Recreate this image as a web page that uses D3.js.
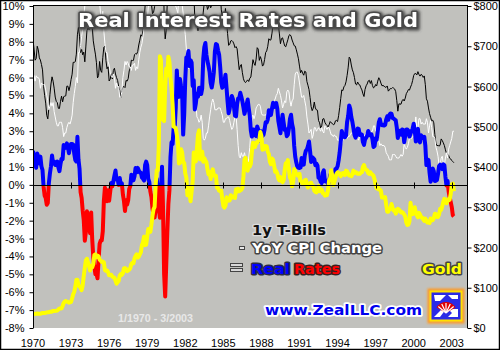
<!DOCTYPE html>
<html>
<head>
<meta charset="utf-8">
<script src="https://cdn.jsdelivr.net/npm/d3@7"></script>
<style>
  html, body { margin: 0; padding: 0; background: #fff; }
  svg { display: block; }
</style>
</head>
<body>
<script>
// Monthly series, January 1970 through March 2003
const startYear = 1970;

// 1-year Treasury yield, %
const tBills = [
  8.10,7.59,6.97,7.06,7.75,7.55,7.10,6.98,6.73,6.43,5.51,5.00,
  4.57,3.89,3.69,4.30,5.04,5.64,6.04,5.80,5.41,4.91,4.67,4.60,
  4.28,4.27,4.67,4.96,4.64,4.93,4.96,4.98,5.52,5.52,5.27,5.52,
  5.89,6.19,6.85,6.85,6.89,7.31,8.39,8.82,8.31,7.40,7.57,7.27,
  7.42,6.88,7.76,8.62,8.78,8.67,8.80,9.36,8.87,8.05,7.66,7.31,
  6.83,5.98,6.11,6.90,6.39,6.29,7.11,7.70,7.75,6.95,6.49,6.60,
  5.81,5.91,6.21,5.92,6.40,6.52,6.20,6.00,5.84,5.50,5.29,4.89,
  5.29,5.47,5.50,5.44,5.84,5.80,5.94,6.37,6.53,6.97,6.95,6.96,
  7.28,7.34,7.31,7.45,7.82,8.09,8.39,8.31,8.64,9.14,10.01,10.30,
  10.41,10.24,10.25,10.12,10.12,9.57,9.64,9.98,10.84,12.44,12.39,11.98,
  12.06,13.92,15.82,13.30,9.39,8.16,8.65,10.24,11.52,12.49,14.15,14.88,
  14.08,14.57,13.71,14.32,16.20,14.86,15.72,16.72,16.52,15.38,12.41,12.85,
  14.32,14.73,13.95,13.98,13.34,14.07,13.24,11.43,10.85,9.32,9.16,8.91,
  8.62,8.92,9.04,8.98,8.90,9.66,10.20,10.53,10.16,9.81,9.94,10.11,
  9.90,10.04,10.59,10.90,11.66,12.08,12.03,11.82,11.58,10.90,9.82,9.33,
  9.02,9.29,9.86,9.14,8.46,7.80,7.86,8.05,8.07,8.01,7.88,7.67,
  7.73,7.61,7.03,6.44,6.65,6.73,6.27,5.93,5.77,5.72,5.80,5.87,
  5.78,5.96,6.03,6.50,7.00,6.80,6.68,7.03,7.67,7.59,6.96,7.17,
  6.99,6.64,6.71,7.01,7.40,7.49,7.75,8.17,8.09,8.11,8.48,8.99,
  9.05,9.25,9.57,9.36,8.98,8.44,7.89,8.18,8.22,7.99,7.77,7.72,
  7.92,8.11,8.35,8.40,8.32,8.10,7.94,7.78,7.76,7.55,7.31,7.05,
  6.64,6.27,6.40,6.24,6.13,6.36,6.31,5.78,5.57,5.33,4.89,4.38,
  4.15,4.29,4.63,4.30,4.19,4.17,3.60,3.47,3.18,3.30,3.68,3.71,
  3.50,3.39,3.33,3.24,3.36,3.54,3.47,3.44,3.36,3.39,3.58,3.61,
  3.54,3.87,4.32,4.82,5.31,5.27,5.48,5.56,5.76,6.11,6.54,7.14,
  7.05,6.70,6.43,6.27,6.00,5.64,5.59,5.75,5.62,5.59,5.43,5.31,
  5.09,4.94,5.34,5.54,5.64,5.81,5.85,5.67,5.83,5.55,5.42,5.47,
  5.61,5.53,5.80,5.99,5.87,5.69,5.54,5.56,5.52,5.46,5.46,5.53,
  5.24,5.31,5.39,5.38,5.44,5.41,5.36,5.21,4.71,4.12,4.53,4.52,
  4.51,4.70,4.78,4.69,4.85,5.10,5.20,5.33,5.30,5.47,5.61,5.84,
  6.12,6.22,6.22,6.15,6.33,6.17,6.08,6.18,6.13,6.01,6.09,5.60,
  4.81,4.68,4.30,3.98,3.78,3.58,3.62,3.47,2.82,2.33,2.18,2.22,
  2.16,2.23,2.57,2.48,2.35,2.20,1.96,1.76,1.72,1.65,1.49,1.45,
  1.36,1.30,1.24
];

// Consumer prices, change over twelve months, %
const cpiYoY = [
  6.2,6.1,5.8,6.1,6.0,6.0,5.9,5.4,5.7,5.6,5.6,5.6,
  5.3,5.0,4.7,4.2,4.4,4.6,4.4,4.6,4.1,3.8,3.5,3.3,
  3.3,3.5,3.5,3.5,3.2,2.7,2.9,2.9,3.2,3.4,3.5,3.4,
  3.6,3.9,4.6,5.1,5.5,6.0,5.7,7.4,7.4,7.8,8.3,8.7,
  9.4,10.0,10.4,10.1,10.7,10.9,11.5,10.9,11.9,12.1,12.2,12.3,
  11.8,11.2,10.3,10.2,9.5,9.4,9.7,8.6,7.9,7.4,7.4,6.9,
  6.7,6.3,6.1,6.0,6.2,6.0,5.4,5.7,5.5,5.5,4.9,4.9,
  5.2,6.0,6.4,6.9,6.7,6.9,6.8,6.6,6.6,6.4,6.7,6.7,
  6.8,6.4,6.6,6.5,7.0,7.4,7.7,7.9,8.3,8.9,8.9,9.0,
  9.3,9.9,10.1,10.5,10.8,10.9,11.3,11.8,12.2,12.1,12.6,13.3,
  13.9,14.2,14.8,14.7,14.4,14.4,13.1,12.9,12.6,12.8,12.6,12.5,
  11.8,11.4,10.5,10.0,9.8,9.6,10.8,10.8,11.0,10.1,9.6,8.9,
  8.4,7.6,6.8,6.5,6.7,7.1,6.4,5.9,5.0,5.1,4.6,3.8,
  3.7,3.5,3.6,3.9,3.5,2.6,2.5,2.6,2.9,2.9,3.3,3.8,
  4.2,4.6,4.8,4.6,4.2,4.2,4.2,4.3,4.3,4.3,4.1,3.9,
  3.5,3.5,3.7,3.7,3.8,3.8,3.6,3.3,3.1,3.2,3.5,3.8,
  3.9,3.1,2.2,1.6,1.5,1.8,1.6,1.6,1.8,1.5,1.3,1.1,
  1.5,2.1,3.0,3.8,3.9,3.7,3.9,4.3,4.4,4.5,4.5,4.4,
  4.0,3.9,3.9,3.9,3.9,4.0,4.1,4.0,4.2,4.2,4.2,4.4,
  4.7,4.8,5.0,5.1,5.4,5.2,5.0,4.7,4.3,4.5,4.7,4.6,
  5.2,5.3,5.2,4.7,4.4,4.7,4.8,5.6,6.2,6.3,6.3,6.1,
  5.7,5.3,4.9,4.9,5.0,4.7,4.4,3.8,3.4,2.9,3.0,3.1,
  2.6,2.8,3.2,3.2,3.0,3.1,3.2,3.1,3.0,3.2,3.0,2.9,
  3.3,3.2,3.1,3.2,3.2,3.0,2.8,2.8,2.7,2.8,2.7,2.7,
  2.5,2.5,2.5,2.4,2.3,2.5,2.8,2.9,3.0,2.6,2.7,2.7,
  2.8,2.9,2.9,3.1,3.2,3.0,2.8,2.6,2.5,2.8,2.6,2.5,
  2.7,2.7,2.8,2.9,2.9,2.8,3.0,2.9,3.0,3.0,3.3,3.3,
  3.0,3.0,2.8,2.5,2.2,2.3,2.2,2.2,2.2,2.1,1.8,1.7,
  1.6,1.4,1.4,1.4,1.7,1.7,1.7,1.6,1.5,1.5,1.5,1.6,
  1.7,1.6,1.7,2.3,2.1,2.0,2.1,2.3,2.6,2.6,2.6,2.7,
  2.7,3.2,3.8,3.1,3.2,3.7,3.7,3.4,3.5,3.4,3.4,3.4,
  3.7,3.5,2.9,3.3,3.6,3.2,2.7,2.7,2.6,2.1,1.9,1.6,
  1.1,1.1,1.5,1.6,1.2,1.1,1.5,1.8,1.5,2.0,2.2,2.4,
  2.6,3.0,3.0
];

// Gold, US$ per ounce
const gold = [
  34.9,35.0,35.1,35.6,35.9,35.4,35.3,35.4,36.2,37.5,37.4,37.4,
  37.9,38.7,38.9,39.0,40.5,40.1,41.0,42.7,42.0,42.5,42.9,43.5,
  45.8,48.3,48.3,49.0,54.6,62.1,65.7,67.0,65.5,64.9,62.9,63.9,
  65,74,84,90,102,120,120,106,103,100,94,106,
  129,150,168,172,163,154,143,154,151,158,181,183,
  176,180,178,170,167,164,165,163,144,142,143,139,
  131,131,132,128,126,125,118,110,114,117,130,134,
  132,136,148,149,147,141,143,145,149,159,162,161,
  173,179,183,175,177,183,188,206,212,227,206,207,
  227,246,242,239,257,279,295,301,355,392,392,456,
  675,665,553,517,514,600,645,627,674,661,623,595,
  557,500,499,496,480,461,409,410,444,437,413,410,
  384,374,330,350,334,315,339,364,436,422,414,445,
  480,491,419,432,438,413,422,416,412,394,382,388,
  370,386,394,381,377,378,348,348,341,340,341,320,
  303,299,304,325,316,317,317,330,324,326,325,323,
  345,339,346,340,342,343,348,376,418,423,398,391,
  408,401,408,438,460,450,450,461,460,465,467,487,
  477,443,444,452,452,451,438,432,413,407,421,418,
  404,388,390,384,371,367,375,365,362,367,392,409,
  410,417,394,374,369,352,362,395,389,381,381,378,
  383,363,363,358,357,367,368,356,349,358,360,361,
  354,353,341,338,337,340,353,340,345,344,335,334,
  329,330,330,342,367,372,392,379,355,364,373,383,
  387,382,384,377,381,385,385,380,391,389,384,379,
  379,377,382,391,385,387,386,383,383,383,386,387,
  400,405,396,393,392,385,383,387,383,381,378,369,
  355,347,352,344,344,341,324,324,323,325,306,289,
  289,297,296,308,299,292,293,284,289,296,294,291,
  287,288,286,282,277,262,256,257,265,311,293,283,
  285,300,286,280,275,286,282,275,274,270,266,272,
  266,262,263,261,272,270,268,273,284,283,276,276,
  282,296,294,302,314,321,314,310,319,317,319,333,
  357,359,340
];

// Axis tick labels
const yearTicks = [1970, 1973, 1976, 1979, 1982, 1985, 1988, 1991, 1994, 1997, 2000, 2003];
const rateTicks = [-8, -7, -6, -5, -4, -3, -2, -1, 0, 1, 2, 3, 4, 5, 6, 7, 8, 9, 10];
const goldTicks = [0, 100, 200, 300, 400, 500, 600, 700, 800];

// Real rate = 1-year T-bill yield less CPI inflation
const realRates = tBills.map((v, i) => v - cpiYoY[i]);
const months = tBills.map((_, i) => startYear + i / 12);

const W = 500, H = 350;
const P = { left: 33, right: 467, top: 6, bottom: 328 };

const svg = d3.select("body").append("svg")
  .attr("width", W).attr("height", H)
  .style("font-family", "'Liberation Sans', Arial, sans-serif");

const defs = svg.append("defs");
defs.append("clipPath").attr("id", "plotClip").append("rect")
  .attr("x", P.left).attr("y", P.top).attr("width", P.right - P.left).attr("height", P.bottom - P.top);

const x = d3.scaleLinear().domain([1970, 2004.2]).range([P.left, P.right]);
const yRate = d3.scaleLinear().domain([-8, 10]).range([P.bottom, P.top]);
const yGold = d3.scaleLinear().domain([0, 800]).range([P.bottom, P.top]);

defs.append("clipPath").attr("id", "posClip").append("rect")
  .attr("x", P.left).attr("y", P.top).attr("width", P.right - P.left).attr("height", yRate(0) - P.top);
defs.append("clipPath").attr("id", "negClip").append("rect")
  .attr("x", P.left).attr("y", yRate(0)).attr("width", P.right - P.left).attr("height", P.bottom - yRate(0));

// soft dark halo used behind the heading
const halo = defs.append("filter").attr("id", "halo").attr("x", "-10%").attr("y", "-40%").attr("width", "120%").attr("height", "180%");
halo.append("feMorphology").attr("in", "SourceAlpha").attr("operator", "dilate").attr("radius", 1.2).attr("result", "d");
halo.append("feGaussianBlur").attr("in", "d").attr("stdDeviation", 1.8).attr("result", "b");
halo.append("feOffset").attr("in", "b").attr("dx", 1).attr("dy", 1).attr("result", "o");
halo.append("feFlood").attr("flood-color", "#404040").attr("flood-opacity", 0.95);
halo.append("feComposite").attr("in2", "o").attr("operator", "in").attr("result", "s");
const hm = halo.append("feMerge");
hm.append("feMergeNode").attr("in", "s");
hm.append("feMergeNode").attr("in", "SourceGraphic");

const glow = defs.append("filter").attr("id", "glow").attr("x", "-30%").attr("y", "-30%").attr("width", "160%").attr("height", "160%");
glow.append("feGaussianBlur").attr("stdDeviation", 1.2);

// Page
svg.append("rect").attr("x", 0).attr("y", 0).attr("width", W).attr("height", H).attr("fill", "#fff");

// Plot background
svg.append("rect")
  .attr("x", P.left).attr("y", P.top - 1).attr("width", P.right - P.left).attr("height", P.bottom - P.top + 1)
  .attr("fill", "#c1c1bd");
svg.append("line").attr("x1", P.left).attr("x2", P.right).attr("y1", P.top - 0.5).attr("y2", P.top - 0.5)
  .attr("stroke", "#000");

const lineRate = d3.line().x((d, i) => x(months[i])).y(d => yRate(d));
const lineGold = d3.line().x((d, i) => x(months[i])).y(d => yGold(d));

const plotG = svg.append("g").attr("clip-path", "url(#plotClip)");

// T-bill yield (black) and CPI inflation (white)
plotG.append("path").attr("d", lineRate(tBills)).attr("fill", "none").attr("stroke", "#000").attr("stroke-width", 1);
plotG.append("path").attr("d", lineRate(cpiYoY)).attr("fill", "none").attr("stroke", "#fff").attr("stroke-width", 1);

// Real rates, blue above zero and red below
plotG.append("g").attr("clip-path", "url(#posClip)").append("path")
  .attr("d", lineRate(realRates)).attr("fill", "none").attr("stroke", "#0000ff")
  .attr("stroke-width", 4).attr("stroke-linejoin", "round");
plotG.append("g").attr("clip-path", "url(#negClip)").append("path")
  .attr("d", lineRate(realRates)).attr("fill", "none").attr("stroke", "#ff0000")
  .attr("stroke-width", 4).attr("stroke-linejoin", "round");

// Zero line with year ticks
const y0 = Math.round(yRate(0)) + 0.5;
svg.append("line").attr("x1", P.left).attr("x2", P.right).attr("y1", y0).attr("y2", y0).attr("stroke", "#000");
svg.append("g").selectAll("line").data(yearTicks.slice(1)).join("line")
  .attr("x1", d => Math.round(x(d)) + 0.5).attr("x2", d => Math.round(x(d)) + 0.5)
  .attr("y1", y0 - 3).attr("y2", y0 + 3).attr("stroke", "#000");

// Gold on top
plotG.append("path").attr("d", lineGold(gold)).attr("fill", "none").attr("stroke", "#ffff00")
  .attr("stroke-width", 4).attr("stroke-linejoin", "round");

// Left axis (%)
const axL = svg.append("g").attr("transform", `translate(${P.left + 0.5},0)`)
  .call(d3.axisLeft(yRate).tickValues(rateTicks).tickSize(4).tickSizeOuter(0).tickPadding(5)
    .tickFormat(d => d + "%"));
// Right axis ($)
const axR = svg.append("g").attr("transform", `translate(${P.right + 0.5},0)`)
  .call(d3.axisRight(yGold).tickValues(goldTicks).tickSize(4).tickSizeOuter(0).tickPadding(2)
    .tickFormat(d => "$" + d));
[axL, axR].forEach(a => {
  a.selectAll("text").attr("font-size", 11).attr("fill", "#000").attr("font-family", "'Liberation Sans', Arial, sans-serif");
  a.select(".domain").attr("stroke", "#000").attr("d", `M0,${P.top - 1}V${P.bottom}`);
  a.selectAll(".tick line").attr("stroke", "#000");
});

// Year labels under the plot
svg.append("g").selectAll("text").data(yearTicks).join("text")
  .attr("x", d => x(d)).attr("y", 347).attr("text-anchor", "middle")
  .attr("font-size", 11).attr("fill", "#000")
  .text(d => d);

// Date range note
svg.append("text").attr("x", 118).attr("y", 322)
  .attr("textLength", 75).attr("lengthAdjust", "spacingAndGlyphs")
  .attr("font-size", 11).attr("font-weight", "bold").attr("fill", "#e8e8e8")
  .text("1/1970 - 3/2003");

// Heading, drawn over the lines
svg.append("text")
  .attr("x", 78).attr("y", 27)
  .attr("textLength", 340).attr("lengthAdjust", "spacingAndGlyphs")
  .attr("font-family", "'DejaVu Sans', Verdana, sans-serif").attr("font-weight", "bold").attr("font-size", 20)
  .attr("fill", "#fff").attr("stroke", "#4a4a4a").attr("stroke-width", 3)
  .attr("paint-order", "stroke").attr("stroke-linejoin", "round")
  .attr("filter", "url(#halo)")
  .text("Real Interest Rates and Gold");

// Legend
const legendFont = "'DejaVu Sans', Verdana, sans-serif";
function label(txt, xPos, yPos, len, fill, stroke, sw, size) {
  svg.append("text").attr("x", xPos).attr("y", yPos)
    .attr("textLength", len).attr("lengthAdjust", "spacingAndGlyphs")
    .attr("font-family", legendFont).attr("font-weight", "bold").attr("font-size", size || 13.5)
    .attr("fill", fill).attr("stroke", stroke).attr("stroke-width", sw)
    .attr("paint-order", "stroke").attr("stroke-linejoin", "round")
    .text(txt);
}
label("1y T-Bills", 252, 235, 74, "#111", "#dcdcdc", 2.6);
label("YoY CPI Change", 252, 253, 130, "#fff", "#444", 2.8);
label("Real", 251, 274, 39, "#0000ff", "#2a2a4a", 2.8);
label("Rates", 294, 274, 46, "#ff0000", "#3a2020", 2.8);
label("Gold", 422, 274, 40, "#ffff00", "#444", 2.8);
label("www.ZealLLC.com", 265, 315, 157, "#0000ee", "#fff", 3.5, 14);

// Legend keys
svg.append("rect").attr("x", 239.5).attr("y", 246.5).attr("width", 5).attr("height", 3)
  .attr("fill", "#e6e6e6").attr("stroke", "#444");
svg.append("rect").attr("x", 230.5).attr("y", 263.5).attr("width", 12).attr("height", 3)
  .attr("fill", "#d8d8d8").attr("stroke", "#444");
svg.append("rect").attr("x", 230.5).attr("y", 268.5).attr("width", 12).attr("height", 3)
  .attr("fill", "#d8d8d8").attr("stroke", "#444");

// Badge
const badge = svg.append("g");
badge.append("rect").attr("x", 429).attr("y", 290).attr("width", 34).attr("height", 32)
  .attr("fill", "none").attr("stroke", "#ff9a20").attr("stroke-width", 3).attr("filter", "url(#glow)");
badge.append("rect").attr("x", 430.5).attr("y", 291.5).attr("width", 31).attr("height", 29)
  .attr("fill", "#2a2ae6").attr("stroke", "#ffe000").attr("stroke-width", 2);
badge.append("path").attr("fill", "#fff")
  .attr("d", "M434,295 H446 L440,301 H435 Z M448,295 H458 V299 H452 Z M434,317 L442,309 H446 L440,317 Z M448,309 H458 V317 H448 L452,313 Z");
const cx = 446, cy = 313;
const fan = d3.arc().innerRadius(0).outerRadius(11).startAngle(-Math.PI / 3).endAngle(Math.PI / 3);
badge.append("path").attr("d", fan()).attr("transform", `translate(${cx},${cy})`).attr("fill", "#e00000");
badge.append("g").attr("transform", `translate(${cx},${cy})`).selectAll("line")
  .data([-50, -25, 0, 25, 50]).join("line")
  .attr("x1", 0).attr("y1", 0)
  .attr("x2", d => 10 * Math.sin(d * Math.PI / 180)).attr("y2", d => -10 * Math.cos(d * Math.PI / 180))
  .attr("stroke", "#fff").attr("stroke-width", 1.2);

// Outer border
svg.append("rect").attr("x", 0.5).attr("y", 0.5).attr("width", W - 1).attr("height", H - 1)
  .attr("fill", "none").attr("stroke", "#000").attr("stroke-width", 1.5);
</script>
</body>
</html>
